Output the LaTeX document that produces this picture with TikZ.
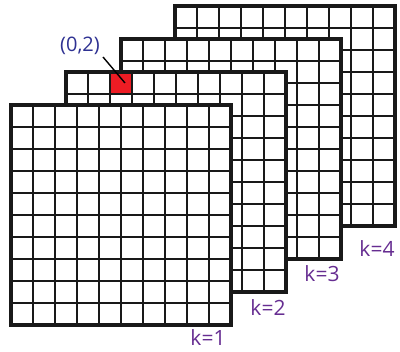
\documentclass[tikz,border=0pt]{standalone}
\usepackage{fontspec}
\setmainfont{Open Sans}
\definecolor{labblue}{RGB}{46,49,146}
\definecolor{labpurple}{RGB}{102,45,145}
\definecolor{cellred}{RGB}{237,28,36}
\tikzset{
  gridline/.style={line width=2pt, black!90},
  gridframe/.style={line width=3.2pt, black!90},
  klabel/.style={text=labpurple, font=\fontsize{21}{22}\selectfont, inner sep=0pt},
  idxlabel/.style={text=labblue, font=\fontsize{20}{22}\selectfont, inner sep=0pt},
}
\begin{document}
\begin{tikzpicture}[x=1pt,y=-1pt]
\useasboundingbox (0,0) rectangle (400,352);
\foreach \k/\ox/\oy in {4/164/-99, 3/110/-66, 2/55/-33, 1/0/0} {
  \begin{scope}[shift={(11+\ox,105+\oy)}]
    \fill[white] (0,0) rectangle (220,220);
    \ifnum\k=2
      \fill[cellred] (44,0) rectangle (66,22);
      \coordinate (redcell) at (59,12);
    \fi
    \foreach \i in {1,...,9} {
      \draw[gridline] (\i*22,0) -- (\i*22,220);
      \draw[gridline] (0,\i*22) -- (220,\i*22);
    }
    \draw[gridframe] (0,0) rectangle (220,220);
  \end{scope}
}
\coordinate (tip) at (125,83);
\node[idxlabel] (lab) at (80,46) {(0,2)};
\draw[line width=1.4pt, black] (103,57) -- (tip);
\node[klabel] (k1) at (208,338) {k=1};
\node[klabel] (k2) at (268,308) {k=2};
\node[klabel] (k3) at (322,274) {k=3};
\node[klabel] (k4) at (377,249) {k=4};
\end{tikzpicture}
\end{document}
